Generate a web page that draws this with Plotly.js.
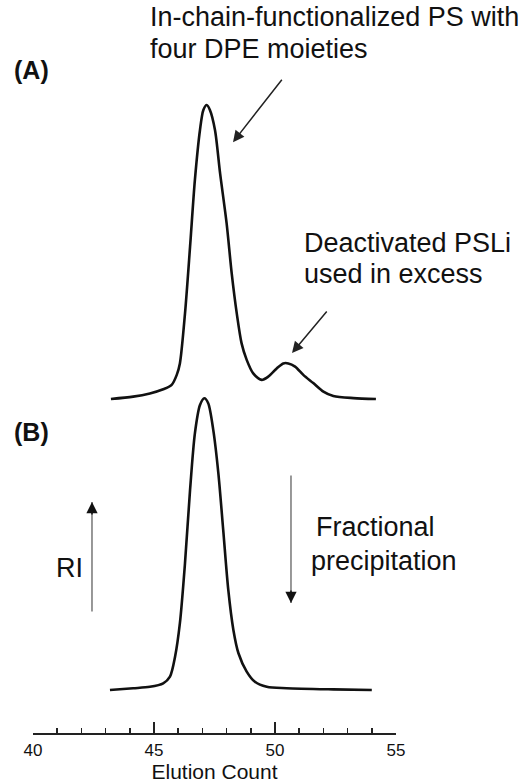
<!DOCTYPE html>
<html>
<head>
<meta charset="utf-8">
<script src="https://cdn.plot.ly/plotly-3.0.1.min.js"></script>
<style>html,body{margin:0;padding:0;background:#fff;}#chart{width:527px;height:783px;}</style>
</head>
<body>
<div id="chart"></div>
<script>
// Trace (A): crude product, elution count vs normalized RI
const elutionA = [43.22, 44.14, 44.83, 45.38, 45.73, 45.94, 46.07, 46.28, 46.49, 46.69, 46.90, 47.04, 47.18, 47.31, 47.52, 47.73, 48.00, 48.21, 48.42, 48.62, 48.83, 49.10, 49.45, 49.72, 50.07, 50.34, 50.55, 50.83, 51.17, 51.58, 52.00, 52.41, 53.24, 54.17];
const riA      = [0.000, 0.008, 0.019, 0.033, 0.048, 0.082, 0.121, 0.290, 0.518, 0.745, 0.915, 0.983, 1.000, 0.983, 0.915, 0.768, 0.598, 0.428, 0.291, 0.189, 0.133, 0.087, 0.065, 0.076, 0.104, 0.121, 0.121, 0.110, 0.082, 0.054, 0.025, 0.010, 0.003, 0.000];

// Trace (B): after fractional precipitation
const elutionB = [43.18, 44.14, 44.83, 45.38, 45.66, 45.87, 46.07, 46.28, 46.49, 46.69, 46.90, 47.08, 47.24, 47.45, 47.66, 47.86, 48.07, 48.28, 48.49, 48.83, 49.17, 49.66, 50.48, 52.41, 54.00];
const riB      = [0.000, 0.006, 0.011, 0.023, 0.046, 0.114, 0.229, 0.434, 0.686, 0.880, 0.977, 1.000, 0.983, 0.891, 0.743, 0.549, 0.343, 0.206, 0.126, 0.063, 0.028, 0.011, 0.006, 0.002, 0.000];

const tickValues = [40, 45, 50, 55];
const tickLabels = ["40", "45", "50", "55"];

const FONT = "Liberation Sans, Arial, Helvetica, sans-serif";
const lineStyle = {color: "#111", width: 2.6, shape: "spline", smoothing: 0.8};

const traces = [
  {x: elutionA, y: riA, type: "scatter", mode: "lines", line: lineStyle, yaxis: "y2", hoverinfo: "skip"},
  {x: elutionB, y: riB, type: "scatter", mode: "lines", line: lineStyle, yaxis: "y", hoverinfo: "skip"}
];

function txt(text, x, y, xanchor, size, bold) {
  return {text: bold ? "<b>" + text + "</b>" : text, xref: "paper", yref: "paper", x: x, y: y,
          xanchor: xanchor, yanchor: "middle", showarrow: false,
          font: {family: FONT, size: size, color: "#111"}};
}
function arrow(x, y, ax, ay, color, head) {
  return {text: "", xref: "paper", yref: "paper", x: x, y: y, ax: ax, ay: ay,
          showarrow: true, arrowhead: head, arrowsize: 1.5, arrowwidth: 1.5, arrowcolor: color};
}

const annotations = [
  txt("In-chain-functionalized PS with", 0.318, 0.977, "left", 27, false),
  txt("four DPE moieties", 0.318, 0.9335, "left", 27, false),
  txt("(A)", -0.0055, 0.9045, "center", 25, true),
  txt("Deactivated PSLi", 0.740, 0.6685, "left", 27, false),
  txt("used in excess", 0.740, 0.6262, "left", 27, false),
  txt("(B)", -0.0055, 0.4106, "center", 25, true),
  txt("RI", 0.0575, 0.2251, "left", 27, false),
  txt("Fractional", 0.775, 0.281, "left", 27, false),
  txt("precipitation", 0.761, 0.2347, "left", 27, false),
  // arrows
  arrow(0.551, 0.806, 50, -64, "#222", 2),
  arrow(0.7135, 0.5184, 36, -43, "#222", 2),
  arrow(0.7107, 0.1774, 0, -129, "#777", 0),
  arrow(0.7107, 0.1774, 0, -14, "#111", 2),
  arrow(0.1625, 0.3151, 0, 111, "#777", 0),
  arrow(0.1625, 0.3151, 0, 14, "#111", 2)
];

const layout = {
  width: 527, height: 783,
  margin: {l: 33, r: 131, t: 0, b: 50, pad: 0},
  paper_bgcolor: "#fff", plot_bgcolor: "#fff",
  showlegend: false,
  font: {family: FONT, color: "#111"},
  xaxis: {
    range: [40, 55], showgrid: false, zeroline: false,
    showline: true, linecolor: "#222", linewidth: 2,
    tickmode: "array", tickvals: tickValues, ticktext: tickLabels,
    ticks: "inside", ticklen: 11, tickwidth: 2, tickcolor: "#222",
    minor: {dtick: 1, ticks: "inside", ticklen: 5, tickwidth: 1.5, tickcolor: "#222", showgrid: false},
    tickfont: {family: FONT, size: 17, color: "#111"},
    ticklabelstandoff: 1,
    title: {text: "Elution Count", font: {family: FONT, size: 21, color: "#111"}, standoff: 5},
    automargin: false, fixedrange: true
  },
  yaxis: {range: [-0.1474, 2.3654], visible: false, fixedrange: true},
  yaxis2: {range: [-1.136, 1.357], overlaying: "y", visible: false, fixedrange: true},
  annotations: annotations
};

Plotly.newPlot("chart", traces, layout, {staticPlot: true, displayModeBar: false});
</script>
</body>
</html>
